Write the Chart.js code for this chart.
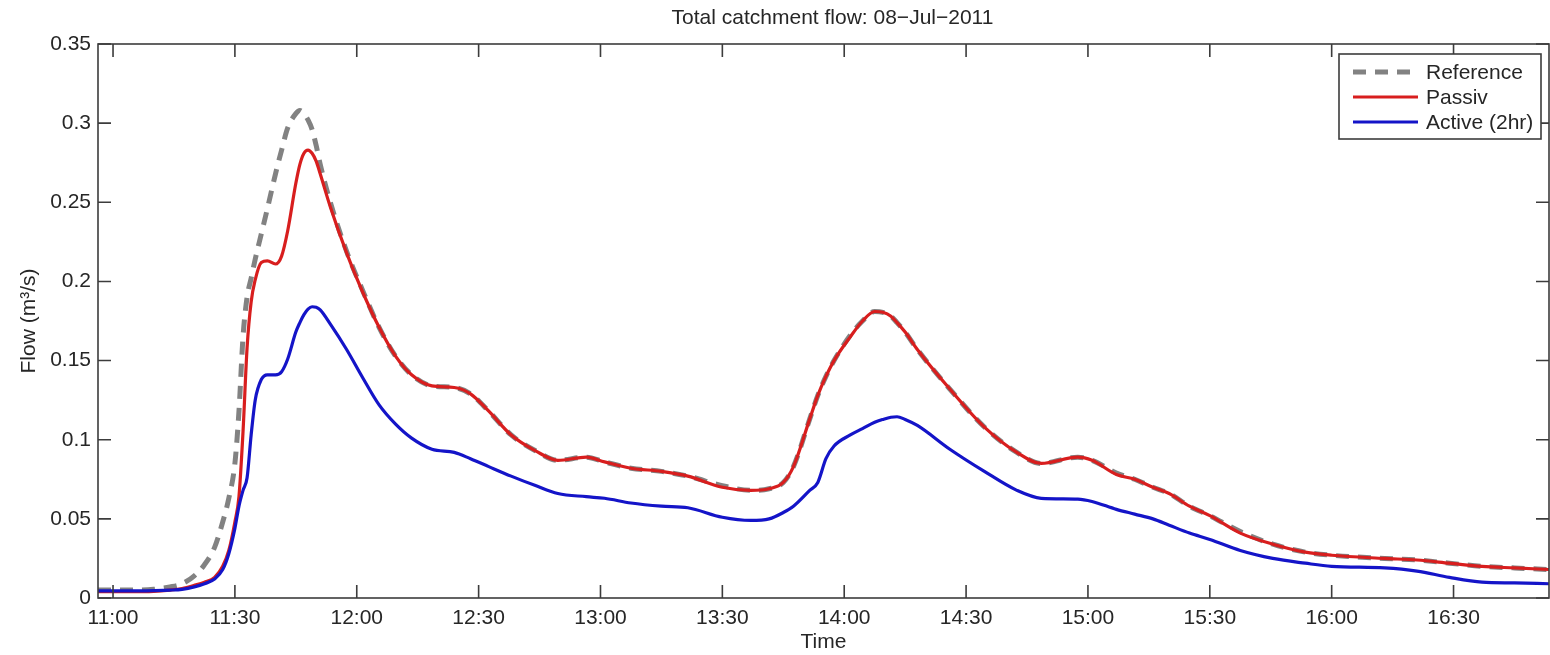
<!DOCTYPE html>
<html>
<head>
<meta charset="utf-8">
<title>Total catchment flow</title>
<script src="https://cdn.jsdelivr.net/npm/chart.js@4.4.1/dist/chart.umd.min.js"></script>
<style>
  html, body { margin: 0; padding: 0; background: #fff; }
  #wrap { width: 1550px; height: 655px; }
</style>
</head>
<body>
<div id="wrap"><canvas id="flow" width="1550" height="655"></canvas></div>
<script>
/* minutes after 11:00 */
const times = [
  -3.7, 4, 10, 14, 17, 20, 22.5, 25, 27, 28.5,
  30, 31, 32, 33, 34, 35, 36.5, 38, 40, 41.5,
  43, 45, 46, 47, 48, 49, 50, 51, 53.5, 57.5,
  61.5, 65.5, 69.5, 73.5, 78.5, 84, 88, 92.5, 98, 104,
  109.5, 116.5, 121, 127.5, 135, 141.5, 150, 157, 161.5, 165,
  167.5, 171.5, 173.5, 175.5, 177.5, 181.5, 184.5, 187.5, 189.5, 191.5,
  193, 195, 198, 206, 214.5, 222.5, 228.5, 237.5, 241, 247,
  251.5, 256, 260, 265, 270, 277.5, 285.5, 293.5, 300, 313,
  321, 329, 337, 345, 353.5
];

const referenceFlow = [
  0.005, 0.005, 0.0055, 0.007, 0.009, 0.014, 0.021, 0.032, 0.048, 0.063,
  0.085, 0.118, 0.165, 0.19, 0.202, 0.214, 0.23, 0.246, 0.268, 0.283,
  0.297, 0.306, 0.308, 0.306, 0.302, 0.296, 0.286, 0.274, 0.25, 0.219,
  0.194, 0.171, 0.153, 0.141, 0.134, 0.133, 0.129, 0.118, 0.103, 0.093,
  0.087, 0.089, 0.086, 0.082, 0.08, 0.077, 0.071, 0.068, 0.069, 0.073,
  0.083, 0.113, 0.128, 0.14, 0.15, 0.166, 0.175, 0.181, 0.1805, 0.178,
  0.174, 0.168, 0.157, 0.132, 0.108, 0.092, 0.085, 0.089, 0.087, 0.079,
  0.075, 0.07, 0.066, 0.058, 0.052, 0.042, 0.034, 0.029, 0.027, 0.025,
  0.024, 0.022, 0.02, 0.019, 0.018
];

const passivFlow = [
  0.004, 0.004, 0.0042, 0.005, 0.006, 0.008, 0.01, 0.013, 0.02, 0.03,
  0.048, 0.064, 0.105, 0.158, 0.187, 0.201, 0.212, 0.213, 0.211, 0.216,
  0.232, 0.262, 0.274, 0.281, 0.283, 0.281, 0.276, 0.268, 0.247, 0.218,
  0.193, 0.171, 0.153, 0.141, 0.134, 0.133, 0.129, 0.118, 0.103, 0.093,
  0.087, 0.089, 0.086, 0.082, 0.08, 0.077, 0.07, 0.068, 0.069, 0.073,
  0.083, 0.113, 0.128, 0.14, 0.15, 0.165, 0.175, 0.181, 0.1805, 0.178,
  0.174, 0.168, 0.157, 0.132, 0.108, 0.092, 0.085, 0.089, 0.087, 0.078,
  0.075, 0.07, 0.066, 0.058, 0.052, 0.041, 0.034, 0.029, 0.027, 0.025,
  0.024, 0.022, 0.02, 0.019, 0.018
];

const activeFlow = [
  0.0045, 0.0045, 0.0047, 0.005, 0.0055, 0.007, 0.009, 0.012, 0.018, 0.028,
  0.044, 0.058, 0.068, 0.076, 0.103, 0.125, 0.138, 0.141, 0.141, 0.143,
  0.151, 0.168, 0.174, 0.179, 0.1825, 0.184, 0.1837, 0.182, 0.173, 0.157,
  0.139, 0.122, 0.11, 0.101, 0.094, 0.092, 0.088, 0.083, 0.077, 0.071,
  0.066, 0.064, 0.063, 0.06, 0.058, 0.057, 0.051, 0.049, 0.05, 0.054,
  0.058, 0.068, 0.073, 0.088, 0.096, 0.103, 0.107, 0.111, 0.1128, 0.1142,
  0.1145, 0.1128, 0.109, 0.094, 0.08, 0.068, 0.063, 0.0625, 0.061, 0.056,
  0.053, 0.05, 0.046, 0.041, 0.037, 0.03, 0.025, 0.022, 0.02, 0.019,
  0.017, 0.013, 0.01, 0.0095, 0.009
];

const xTickValues = [0, 30, 60, 90, 120, 150, 180, 210, 240, 270, 300, 330];
const xTickLabels = ["11:00", "11:30", "12:00", "12:30", "13:00", "13:30",
                     "14:00", "14:30", "15:00", "15:30", "16:00", "16:30"];

const titleText = "Total catchment flow: 08\u2212Jul\u22122011";

const toPoints = vals => vals.map((v, i) => ({ x: times[i], y: v }));

const INK = "#262626";
const FONT = '"Liberation Sans", Arial, Helvetica, sans-serif';
Chart.defaults.font.family = FONT;
Chart.defaults.font.size = 21;
Chart.defaults.color = INK;

/* axes box with inward ticks, MATLAB style */
const frame = {
  id: "frame",
  afterDatasetsDraw(chart) {
    const { ctx, chartArea: a, scales: { x, y } } = chart;
    const len = 13;
    ctx.save();
    ctx.strokeStyle = "#3c3c3c";
    ctx.lineWidth = 1.6;
    ctx.beginPath();
    x.ticks.forEach(t => {
      const px = x.getPixelForValue(t.value);
      ctx.moveTo(px, a.bottom); ctx.lineTo(px, a.bottom - len);
      ctx.moveTo(px, a.top); ctx.lineTo(px, a.top + len);
    });
    y.ticks.forEach(t => {
      const py = y.getPixelForValue(t.value);
      ctx.moveTo(a.left, py); ctx.lineTo(a.left + len, py);
      ctx.moveTo(a.right, py); ctx.lineTo(a.right - len, py);
    });
    ctx.stroke();
    ctx.strokeRect(a.left, a.top, a.right - a.left, a.bottom - a.top);
    ctx.restore();
  }
};

/* title over the axes, plus boxed legend in the top-right corner */
const legendBox = {
  id: "legendBox",
  afterDraw(chart) {
    const { ctx, chartArea: a } = chart;
    ctx.save();
    ctx.font = "21px " + FONT;
    ctx.fillStyle = INK;
    ctx.textAlign = "center";
    ctx.textBaseline = "middle";
    ctx.fillText(titleText, (a.left + a.right) / 2 + 9, 18);

    const w = 202, h = 85;
    const left = a.right - 210, top = a.top + 10;
    ctx.fillStyle = "#fff";
    ctx.fillRect(left, top, w, h);
    ctx.strokeStyle = "#3c3c3c";
    ctx.lineWidth = 1.6;
    ctx.strokeRect(left, top, w, h);
    ctx.textAlign = "left";
    ctx.fillStyle = INK;
    chart.data.datasets.forEach((ds, i) => {
      const yy = top + 18 + i * 25;
      ctx.strokeStyle = ds.borderColor;
      ctx.lineWidth = ds.borderWidth;
      ctx.setLineDash(ds.borderDash || []);
      ctx.beginPath();
      ctx.moveTo(left + 14, yy);
      ctx.lineTo(left + 79, yy);
      ctx.stroke();
      ctx.setLineDash([]);
      ctx.fillText(ds.label, left + 87, yy + 1);
    });
    ctx.restore();
  }
};

new Chart(document.getElementById("flow"), {
  type: "line",
  data: {
    datasets: [
      {
        label: "Reference",
        data: toPoints(referenceFlow),
        borderColor: "#828282",
        borderWidth: 5,
        borderDash: [13, 9],
        order: 3
      },
      {
        label: "Passiv",
        data: toPoints(passivFlow),
        borderColor: "#d81e1e",
        borderWidth: 3.2,
        order: 2
      },
      {
        label: "Active (2hr)",
        data: toPoints(activeFlow),
        borderColor: "#1414c8",
        borderWidth: 3.2,
        order: 1
      }
    ]
  },
  options: {
    responsive: false,
    animation: false,
    layout: { padding: { left: 0, right: 1, top: 44, bottom: 0 } },
    elements: {
      point: { radius: 0 },
      line: { cubicInterpolationMode: "monotone", borderCapStyle: "butt" }
    },
    plugins: {
      legend: { display: false },
      tooltip: { enabled: false },
      title: { display: false }
    },
    scales: {
      x: {
        type: "linear",
        min: -3.7,
        max: 353.5,
        grid: { display: false, drawTicks: false },
        border: { display: false },
        afterBuildTicks: s => { s.ticks = xTickValues.map(v => ({ value: v })); },
        ticks: {
          padding: 8,
          maxRotation: 0,
          autoSkip: false,
          callback: v => xTickLabels[xTickValues.indexOf(v)]
        },
        title: { display: true, text: "Time", padding: { top: 0, bottom: 0 } },
        afterFit: s => { s.height = 57; }
      },
      y: {
        min: 0,
        max: 0.35,
        grid: { display: false, drawTicks: false },
        border: { display: false },
        ticks: {
          stepSize: 0.05,
          padding: 7,
          callback: v => String(Number(v.toFixed(2)))
        },
        title: { display: true, text: "Flow (m\u00b3/s)", padding: { top: 17, bottom: 0 } },
        afterFit: s => { s.width = 98; }
      }
    }
  },
  plugins: [frame, legendBox]
});
</script>
</body>
</html>
